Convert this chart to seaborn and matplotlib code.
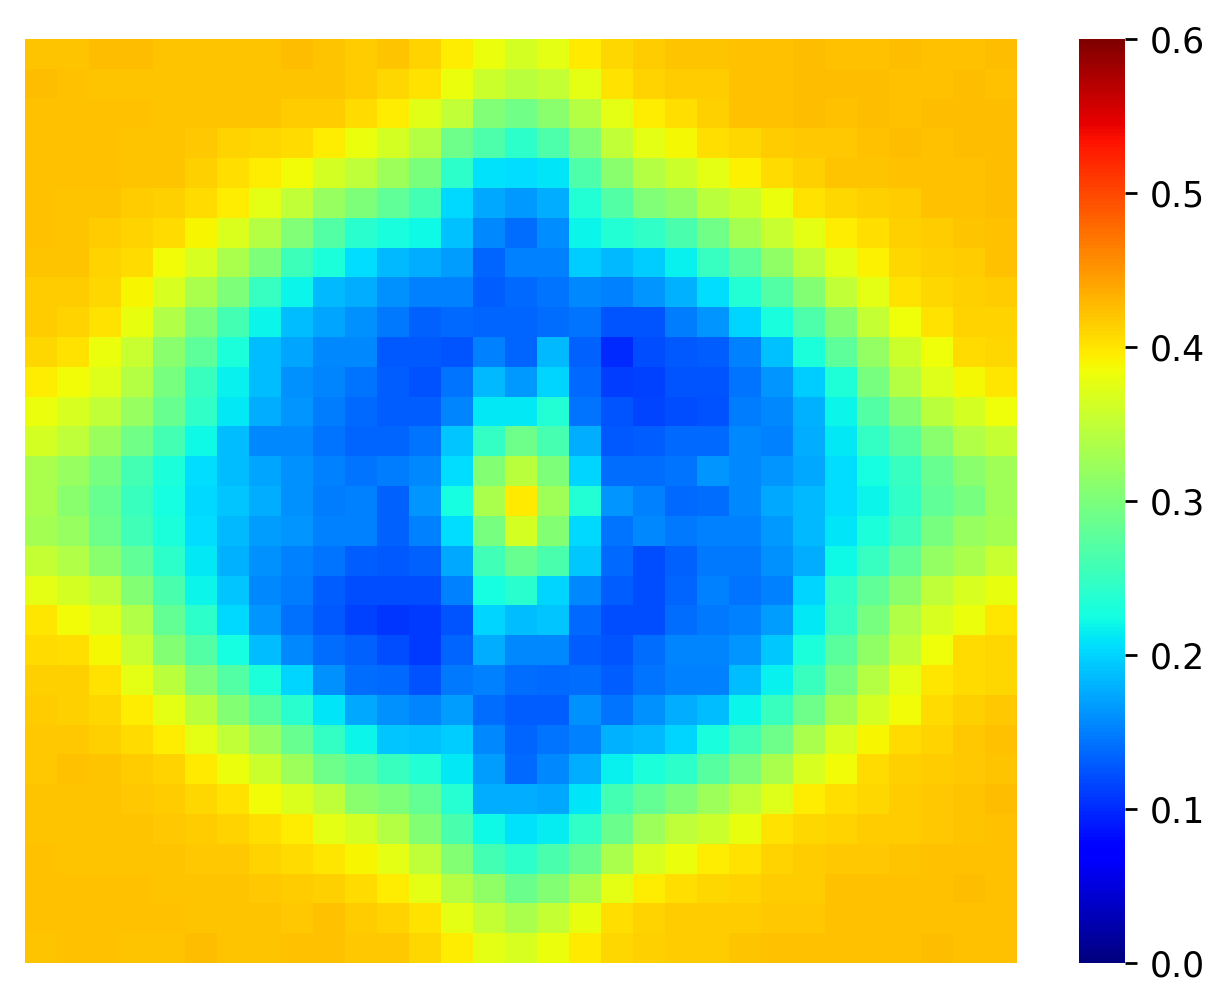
import numpy as np
import matplotlib
matplotlib.use("Agg")
import matplotlib.pyplot as plt
import seaborn as sns

# values, one list per row (top to bottom)
cells = [
    [.42,.42,.425,.425,.42,.42,.42,.42,.425,.42,.415,.42,.411,.395,.38,.365,.375,.397,.41,.415,.42,.42,.423,.423,.425,.422,.422,.425,.423,.423,.425],
    [.425,.423,.42,.42,.42,.42,.42,.42,.42,.42,.415,.408,.403,.38,.358,.345,.352,.375,.403,.411,.415,.417,.422,.423,.425,.425,.425,.422,.422,.425,.422],
    [.423,.423,.423,.422,.42,.42,.42,.42,.415,.415,.407,.395,.374,.35,.303,.292,.31,.34,.375,.396,.405,.414,.422,.422,.425,.423,.425,.422,.425,.425,.425],
    [.423,.423,.423,.42,.42,.418,.411,.409,.406,.395,.382,.365,.34,.29,.265,.243,.265,.303,.35,.375,.388,.405,.41,.415,.418,.418,.422,.425,.423,.425,.425],
    [.423,.423,.422,.42,.42,.413,.405,.396,.385,.365,.348,.325,.298,.243,.208,.205,.21,.265,.31,.34,.358,.375,.392,.407,.413,.42,.42,.423,.423,.423,.425],
    [.423,.42,.42,.415,.414,.407,.394,.375,.35,.32,.3,.28,.258,.203,.174,.165,.178,.235,.27,.303,.315,.345,.358,.38,.403,.408,.414,.417,.423,.423,.425],
    [.423,.42,.415,.411,.407,.39,.37,.34,.303,.27,.24,.228,.222,.188,.155,.14,.158,.22,.235,.245,.263,.292,.33,.355,.376,.395,.405,.413,.415,.42,.423],
    [.42,.42,.411,.406,.385,.367,.333,.3,.255,.23,.204,.183,.176,.167,.135,.15,.15,.195,.185,.195,.216,.25,.278,.315,.348,.375,.392,.408,.414,.415,.422],
    [.415,.415,.408,.39,.367,.335,.3,.25,.218,.185,.176,.16,.15,.15,.13,.137,.143,.155,.15,.163,.18,.206,.235,.27,.305,.35,.377,.403,.408,.414,.415],
    [.415,.411,.402,.378,.338,.3,.26,.22,.187,.172,.16,.147,.132,.137,.135,.135,.14,.143,.126,.126,.148,.163,.2,.228,.265,.305,.352,.384,.402,.411,.411],
    [.409,.402,.382,.355,.31,.277,.23,.187,.173,.155,.155,.128,.128,.125,.15,.135,.183,.132,.1,.12,.128,.13,.15,.188,.23,.277,.318,.358,.383,.406,.41],
    [.396,.385,.372,.34,.297,.252,.217,.187,.16,.154,.143,.13,.122,.143,.183,.165,.2,.138,.112,.114,.125,.125,.143,.163,.195,.234,.297,.34,.372,.387,.4],
    [.38,.367,.35,.32,.285,.245,.212,.176,.163,.148,.138,.13,.13,.153,.212,.212,.235,.143,.126,.116,.12,.124,.148,.157,.18,.22,.27,.305,.345,.365,.383],
    [.364,.348,.322,.292,.26,.222,.187,.157,.157,.143,.135,.135,.143,.19,.248,.29,.262,.178,.128,.13,.136,.136,.157,.152,.178,.213,.248,.275,.31,.338,.352],
    [.333,.32,.297,.26,.232,.205,.187,.173,.16,.15,.143,.148,.155,.204,.305,.345,.3,.2,.14,.14,.143,.163,.157,.163,.175,.204,.227,.25,.285,.31,.327],
    [.333,.31,.285,.252,.227,.202,.19,.176,.16,.148,.152,.132,.163,.226,.333,.398,.327,.236,.163,.15,.138,.14,.157,.175,.183,.204,.22,.245,.28,.297,.327],
    [.33,.32,.29,.256,.23,.204,.184,.168,.163,.15,.152,.132,.15,.204,.297,.365,.307,.202,.144,.157,.146,.15,.15,.165,.185,.21,.232,.256,.297,.32,.33],
    [.352,.338,.31,.28,.243,.212,.18,.16,.15,.143,.13,.128,.132,.175,.256,.285,.263,.193,.136,.12,.132,.147,.147,.16,.178,.222,.25,.282,.317,.335,.355],
    [.377,.365,.348,.307,.263,.218,.19,.157,.148,.13,.12,.12,.12,.15,.226,.24,.2,.155,.13,.12,.135,.15,.145,.152,.2,.245,.28,.31,.348,.367,.378],
    [.4,.386,.372,.338,.282,.243,.202,.163,.142,.127,.113,.106,.108,.125,.2,.187,.19,.136,.12,.12,.14,.146,.15,.168,.213,.25,.297,.338,.367,.382,.4],
    [.406,.405,.387,.355,.307,.27,.226,.187,.157,.14,.132,.12,.108,.135,.176,.157,.157,.13,.126,.14,.154,.153,.163,.193,.232,.275,.315,.35,.383,.406,.408],
    [.413,.414,.402,.377,.345,.303,.27,.232,.2,.16,.14,.136,.122,.146,.15,.14,.138,.14,.13,.144,.152,.152,.186,.216,.252,.297,.34,.375,.4,.407,.409],
    [.415,.414,.41,.396,.377,.345,.307,.275,.24,.21,.174,.16,.153,.168,.14,.13,.13,.16,.144,.16,.178,.186,.218,.252,.29,.33,.365,.386,.407,.413,.418],
    [.418,.418,.414,.407,.394,.377,.35,.32,.285,.248,.22,.19,.188,.195,.155,.135,.144,.152,.18,.183,.2,.228,.258,.29,.335,.367,.39,.406,.411,.418,.422],
    [.418,.422,.42,.415,.411,.397,.38,.358,.325,.29,.272,.252,.236,.213,.168,.137,.155,.176,.216,.232,.243,.272,.3,.335,.367,.386,.406,.413,.415,.418,.42],
    [.42,.42,.42,.418,.415,.408,.403,.386,.37,.347,.31,.3,.282,.237,.178,.176,.175,.21,.258,.282,.3,.325,.347,.372,.394,.405,.41,.415,.418,.42,.425],
    [.42,.42,.42,.42,.418,.415,.411,.405,.394,.375,.365,.34,.305,.263,.222,.207,.215,.245,.288,.325,.347,.358,.378,.403,.408,.412,.415,.417,.419,.421,.423],
    [.423,.42,.42,.42,.42,.418,.418,.412,.407,.4,.39,.375,.347,.307,.26,.243,.263,.288,.335,.367,.38,.396,.403,.412,.415,.418,.419,.42,.422,.422,.423],
    [.422,.422,.422,.422,.42,.42,.42,.418,.417,.414,.407,.396,.375,.34,.315,.288,.307,.335,.375,.394,.405,.41,.411,.415,.417,.422,.422,.422,.423,.425,.422],
    [.423,.423,.423,.423,.423,.42,.42,.42,.418,.423,.415,.412,.403,.375,.352,.335,.352,.378,.405,.412,.415,.415,.415,.418,.418,.422,.422,.422,.422,.422,.422],
    [.42,.423,.423,.42,.42,.425,.42,.42,.423,.423,.418,.418,.408,.396,.375,.367,.38,.398,.408,.414,.415,.417,.42,.422,.422,.422,.423,.423,.425,.422,.422],
]
cbar_ticks = [0.0, 0.1, 0.2, 0.3, 0.4, 0.5, 0.6]

W, H = 1229, 1008

fig = plt.figure(figsize=(W / 200, H / 200), dpi=200)
ax = fig.add_axes([25 / W, 1 - 963 / H, 992 / W, 924 / H])
cax = fig.add_axes([1079 / W, 1 - 963 / H, 46 / W, 924 / H])

sns.heatmap(
    np.array(cells),
    vmin=0,
    vmax=0.6,
    cmap="jet",
    xticklabels=False,
    yticklabels=False,
    ax=ax,
    cbar_ax=cax,
)

cax.set_yticks(cbar_ticks)
cax.set_yticklabels([f"{t:.1f}" for t in cbar_ticks])
cax.tick_params(labelsize=12.5, length=4.4, width=1, pad=4.5)

fig.savefig("out.png", dpi=200)
plt.close()
